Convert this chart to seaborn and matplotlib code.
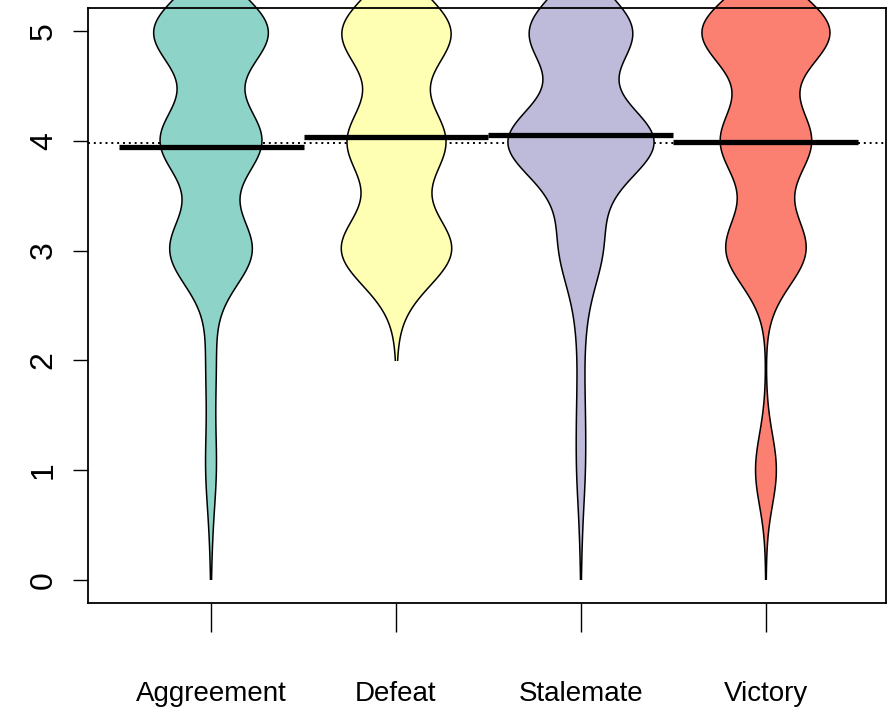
import numpy as np
import pandas as pd
import matplotlib
matplotlib.use('Agg')
import matplotlib.pyplot as plt
from matplotlib.patches import Rectangle
import seaborn as sns

# answer levels and how many answers sit on each level, per outcome
levels = [0, 0.5, 1, 1.5, 2, 2.5, 3, 3.5, 4, 4.5, 5]
groups = ['Aggreement', 'Defeat', 'Stalemate', 'Victory']
counts_aggreement = [1, 7, 26, 14, 24, 9, 237, 20, 290, 20, 336]
counts_defeat = [0, 0, 0, 0, 2, 8, 308, 40, 266, 30, 310]
counts_stalemate = [1, 6, 20, 18, 12, 24, 108, 66, 417, 24, 306]
counts_victory = [1, 2, 60, 3, 0, 4, 225, 30, 250, 24, 369]

# bean averages and the overall average
bean_means = [3.94, 4.03, 4.05, 3.99]
overall_mean = 3.98

colors = ['#8DD3C7', '#FFFFB3', '#BEBADA', '#FB8072']
kernel_sd = 0.32

all_counts = [counts_aggreement, counts_defeat, counts_stalemate, counts_victory]
rows = []
for g, cnt in zip(groups, all_counts):
    vals = np.repeat(levels, cnt)
    rows.append(pd.DataFrame({'group': g, 'value': vals}))
df = pd.concat(rows, ignore_index=True)

fig = plt.figure(figsize=(8.91, 7.13), dpi=100)
ax = fig.add_axes([88/891, 1-603/713, (886-88)/891, (603-8)/713])

# overall average, dotted, under the beans
ax.axhline(overall_mean, color='black', ls=(0, (1, 2)), lw=1.4, zorder=0)

sns.violinplot(data=df, x='group', y='value', hue='group', palette=colors,
               order=groups, hue_order=groups, legend=False,
               density_norm='area', common_norm=True, width=0.79, cut=3,
               gridsize=500, inner=None, linewidth=1.1, linecolor='black',
               saturation=1,
               bw_method=lambda k: kernel_sd / np.std(k.dataset, ddof=1),
               ax=ax, zorder=1)

# beans stop at the smallest answer of each group
mins = [min(v for v, c in zip(levels, cnt) if c > 0) for cnt in all_counts]
for coll in ax.collections:
    paths = coll.get_paths()
    if not paths:
        continue
    cx = paths[0].vertices[:, 0].mean()
    i = int(round(cx))
    if 0 <= i < len(groups):
        clip = Rectangle((i - 0.5, mins[i]), 1, 10, transform=ax.transData)
        coll.set_clip_path(clip)

# bean averages
for i, m in enumerate(bean_means):
    ax.hlines(m, i - 0.5, i + 0.5, color='black', lw=3.8, zorder=3)

ax.set_xlim(-0.665, 3.649)
ax.set_ylim(-0.209, 5.209)
ax.set_yticks([0, 1, 2, 3, 4, 5])
ax.set_yticklabels(['0', '1', '2', '3', '4', '5'], rotation=90,
                   fontsize=23, family=['Liberation Sans', 'DejaVu Sans'], va='center')
ax.set_xticks(range(len(groups)))
ax.set_xticklabels(groups, fontsize=20,
                   family=['Liberation Sans', 'DejaVu Sans'])
ax.tick_params(axis='y', length=11, width=1, pad=10, colors='black')
ax.tick_params(axis='x', length=21, width=1, pad=35, colors='black')
ax.set_xlabel('')
ax.set_ylabel('')
for s in ax.spines.values():
    s.set_linewidth(1.3)
    s.set_color('black')

fig.savefig('out.png', dpi=100)
